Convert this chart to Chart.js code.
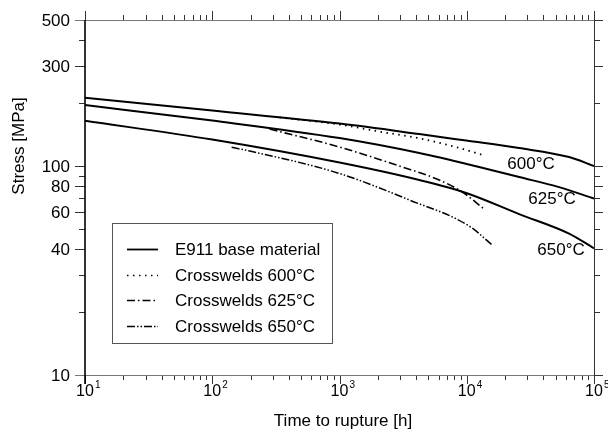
<!DOCTYPE html>
<html><head><meta charset="utf-8">
<script src="https://cdn.jsdelivr.net/npm/chart.js@4/dist/chart.umd.min.js"></script>
<style>html,body{margin:0;padding:0;background:#fff}#wrap{width:608px;height:435px}</style>
</head><body><div id="wrap"><canvas id="c" width="608" height="435"></canvas></div>
<script>
// ---- data (time to rupture [h], stress [MPa]) ----
const base600T = [10, 100, 1000, 4236, 9900, 25800, 63700, 100000];
const base600S = [212.3, 184.4, 159.7, 142.3, 132.4, 121.9, 110.4, 100];
const base625T = [10, 100, 1000, 4236, 12500, 25800, 53100, 100000];
const base625S = [195.8, 165.1, 136.1, 115.4, 98.9, 88.6, 79.3, 69.9];
const base650T = [10, 100, 1000, 4236, 9900, 25800, 63700, 100000];
const base650S = [164.7, 133.9, 103.9, 85.7, 74.3, 58.9, 47.5, 40.4];
const cw600T = [338, 1000, 2170, 4236, 7690, 13460];
const cw600S = [170.8, 158, 145.4, 135.7, 124.6, 112.9];
const cw625T = [282, 1000, 2955, 6080, 9230, 13460];
const cw625S = [150.3, 123.3, 100, 85.7, 75.1, 62.8];
const cw650T = [142, 197, 1000, 3540, 10460, 15850];
const cw650S = [122.9, 118, 92.1, 68.8, 51.6, 41.9];

const xDecades = [10, 100, 1000, 10000, 100000];
const xExponents = ['1', '2', '3', '4', '5'];
const yLabelled = [10, 40, 60, 80, 100, 300, 500];
const yMinor = [20, 30, 50, 70, 90, 200, 400];
const legendLabels = ['E911 base material', 'Crosswelds 600°C', 'Crosswelds 625°C', 'Crosswelds 650°C'];
const curveLabels = ['600°C', '625°C', '650°C'];

const pts = (t, s) => t.map((v, i) => ({x: v, y: s[i]}));
const FONT = '"Liberation Sans", Arial, sans-serif';

const solid = {borderColor: '#000', borderWidth: 2, pointRadius: 0, cubicInterpolationMode: 'monotone', fill: false};
const dashStyles = [[1.5, 4.5], [8, 3, 1.5, 3], [8, 2, 1.5, 2, 1.5, 2]];

const datasets = [
  Object.assign({data: pts(base600T, base600S)}, solid),
  Object.assign({data: pts(base625T, base625S)}, solid),
  Object.assign({data: pts(base650T, base650S)}, solid),
  {data: pts(cw600T, cw600S), borderColor: '#000', borderWidth: 1.8, borderDash: dashStyles[0], pointRadius: 0, cubicInterpolationMode: 'monotone'},
  {data: pts(cw625T, cw625S), borderColor: '#000', borderWidth: 1.6, borderDash: dashStyles[1], pointRadius: 0, cubicInterpolationMode: 'monotone'},
  {data: pts(cw650T, cw650S), borderColor: '#000', borderWidth: 1.5, borderDash: dashStyles[2], pointRadius: 0, cubicInterpolationMode: 'monotone'}
];

const decor = {
  id: 'decor',
  afterDraw(chart) {
    const ctx = chart.ctx, xs = chart.scales.x, ys = chart.scales.y, a = chart.chartArea;
    ctx.save();
    const xTicks = [];
    for (let d = 10; d < 100000; d *= 10) for (let m = 1; m < 10; m++) xTicks.push({v: d * m, major: m === 1});
    xTicks.push({v: 100000, major: true});
    ctx.lineWidth = 1; ctx.strokeStyle = '#333';
    xTicks.forEach(t => {
      const px = Math.round(xs.getPixelForValue(t.v)) + 0.5;
      const len = t.major ? 9 : 5;
      ctx.beginPath(); ctx.moveTo(px, a.bottom); ctx.lineTo(px, a.bottom + len); ctx.stroke();
      ctx.beginPath(); ctx.moveTo(px, a.top); ctx.lineTo(px, a.top - len); ctx.stroke();
    });
    yLabelled.forEach(v => {
      const py = Math.round(ys.getPixelForValue(v)) + 0.5;
      ctx.beginPath(); ctx.moveTo(a.left - 10, py); ctx.lineTo(a.left, py); ctx.stroke();
      ctx.beginPath(); ctx.moveTo(a.right, py); ctx.lineTo(a.right + 9, py); ctx.stroke();
    });
    yMinor.forEach(v => {
      const py = Math.round(ys.getPixelForValue(v)) + 0.5;
      ctx.beginPath(); ctx.moveTo(a.left - 6, py); ctx.lineTo(a.left, py); ctx.stroke();
      ctx.beginPath(); ctx.moveTo(a.right, py); ctx.lineTo(a.right + 6, py); ctx.stroke();
    });
    ctx.strokeStyle = '#777'; ctx.lineWidth = 1;
    ctx.beginPath(); ctx.moveTo(a.left - 10, a.top + 0.5); ctx.lineTo(a.right, a.top + 0.5); ctx.stroke();
    ctx.beginPath(); ctx.moveTo(a.left - 10, a.bottom + 0.5); ctx.lineTo(a.right, a.bottom + 0.5); ctx.stroke();
    ctx.strokeStyle = '#333';
    ctx.beginPath(); ctx.moveTo(a.right + 0.5, a.top); ctx.lineTo(a.right + 0.5, a.bottom); ctx.stroke();
    ctx.strokeStyle = '#000'; ctx.lineWidth = 1.6;
    ctx.beginPath(); ctx.moveTo(a.left, a.top); ctx.lineTo(a.left, a.bottom + 9); ctx.stroke();

    ctx.fillStyle = '#000';
    ctx.font = '17px ' + FONT; ctx.textAlign = 'right'; ctx.textBaseline = 'middle';
    yLabelled.forEach(v => ctx.fillText(String(v), 70, ys.getPixelForValue(v) + 1));
    xDecades.forEach((v, i) => {
      const px = xs.getPixelForValue(v);
      ctx.font = '16px ' + FONT; ctx.textAlign = 'center'; ctx.textBaseline = 'middle';
      ctx.fillText('10', px, 392);
      const w = ctx.measureText('10').width;
      ctx.font = '10px ' + FONT; ctx.textAlign = 'left';
      ctx.fillText(xExponents[i], px + w / 2 + 1, 385);
    });
    ctx.font = '17px ' + FONT; ctx.textAlign = 'center'; ctx.textBaseline = 'middle';
    ctx.fillText('Time to rupture [h]', 343, 421);
    ctx.save(); ctx.translate(19, 146); ctx.rotate(-Math.PI / 2);
    ctx.fillText('Stress [MPa]', 0, 0); ctx.restore();
    const cl = [[531, 164], [552, 199], [561, 250]];
    curveLabels.forEach((s, i) => ctx.fillText(s, cl[i][0], cl[i][1]));
    ctx.fillStyle = '#fff'; ctx.fillRect(112, 223, 220, 120);
    ctx.strokeStyle = '#555'; ctx.lineWidth = 1;
    ctx.strokeRect(112.5, 223.5, 220, 120);
    const rows = [249, 275, 300, 326];
    const styles = [[], dashStyles[0], dashStyles[1], dashStyles[2]];
    rows.forEach((ry, i) => {
      ctx.setLineDash(styles[i]); ctx.strokeStyle = '#000'; ctx.lineWidth = i === 0 ? 1.8 : 1.5;
      ctx.beginPath(); ctx.moveTo(127, ry + 0.5); ctx.lineTo(158, ry + 0.5); ctx.stroke();
      ctx.setLineDash([]);
      ctx.fillStyle = '#000'; ctx.font = '17px ' + FONT; ctx.textAlign = 'left'; ctx.textBaseline = 'middle';
      ctx.fillText(legendLabels[i], 175, ry + 1);
    });
    ctx.restore();
  }
};

new Chart(document.getElementById('c'), {
  type: 'line',
  data: {datasets},
  options: {
    responsive: false, animation: false, devicePixelRatio: 1,
    layout: {padding: {left: 85, right: 14, top: 20, bottom: 60}},
    plugins: {legend: {display: false}, tooltip: {enabled: false}},
    scales: {
      x: {type: 'logarithmic', min: 10, max: 100000, display: false},
      y: {type: 'logarithmic', min: 10, max: 500, display: false}
    }
  },
  plugins: [decor]
});
</script></body></html>
